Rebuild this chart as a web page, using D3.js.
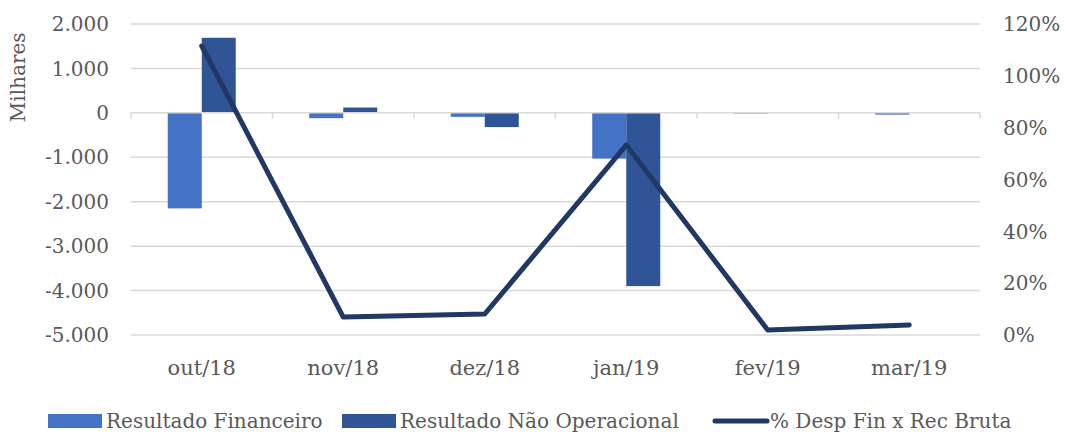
<!DOCTYPE html>
<html>
<head>
<meta charset="utf-8">
<script src="https://cdn.jsdelivr.net/npm/d3@7"></script>
<style>
  body { margin: 0; background: #fff; }
</style>
</head>
<body>
<svg id="chart" width="1065" height="432"></svg>
<script>
const categories = ['out/18', 'nov/18', 'dez/18', 'jan/19', 'fev/19', 'mar/19'];
const resultadoFinanceiro = [-2150, -120, -90, -1030, -15, -40];
const resultadoNaoOperacional = [1690, 120, -320, -3900, 0, 0];
const despFinRecBruta = [1.115, 0.069, 0.081, 0.733, 0.019, 0.039];
const leftTicks = [2000, 1000, 0, -1000, -2000, -3000, -4000, -5000];
const rightTicks = [0, 0.2, 0.4, 0.6, 0.8, 1.0, 1.2];

const FONT = '"DejaVu Serif", "Liberation Serif", serif';
const margin = { top: 24, right: 85, bottom: 97, left: 131 };
const width = 1065 - margin.left - margin.right;
const height = 432 - margin.top - margin.bottom;

const root = d3.select('#chart');
const svg = root
  .append('g')
    .attr('transform', `translate(${margin.left},${margin.top})`);

const x = d3.scaleBand().domain(categories).range([0, width]);
const y = d3.scaleLinear().domain([-5000, 2000]).range([height, 0]);
const y2 = d3.scaleLinear().domain([0, 1.2]).range([height, 0]);

const fmtN = d3.formatLocale({
  decimal: ',', thousands: '.', grouping: [3], currency: ['', ''], minus: '-',
}).format(',d');

// gridlines
svg.append('g')
  .selectAll('line')
  .data(leftTicks.filter(d => d !== 0))
  .enter().append('line')
    .attr('x1', 0)
    .attr('x2', width)
    .attr('y1', d => y(d))
    .attr('y2', d => y(d))
    .attr('stroke', '#d9d9d9')
    .attr('stroke-width', 1.5);

// bars
const barW = 34;
const series = [
  { values: resultadoFinanceiro, color: '#4472c4', off: -barW },
  { values: resultadoNaoOperacional, color: '#2f5597', off: 0 },
];
series.forEach((s) => {
  svg.append('g')
    .selectAll('rect')
    .data(s.values)
    .enter().append('rect')
      .attr('x', (d, i) => x(categories[i]) + x.bandwidth() / 2 + s.off)
      .attr('y', d => y(Math.max(0, d)))
      .attr('width', barW)
      .attr('height', d => Math.abs(y(d) - y(0)))
      .attr('fill', s.color);
});

// zero axis with category ticks
const xAxis = svg.append('g')
  .attr('transform', `translate(0,${y(0)})`);
xAxis.append('line')
  .attr('x1', 0).attr('x2', width)
  .attr('stroke', '#d9d9d9').attr('stroke-width', 1.5);
xAxis.selectAll('.tick')
  .data(d3.range(categories.length + 1))
  .enter().append('line')
    .attr('x1', i => i * x.step())
    .attr('x2', i => i * x.step())
    .attr('y1', 0).attr('y2', 6)
    .attr('stroke', '#d9d9d9').attr('stroke-width', 1.5);

// line series
const line = d3.line()
  .x((d, i) => x(categories[i]) + x.bandwidth() / 2)
  .y(d => y2(d));
svg.append('path')
  .datum(despFinRecBruta)
  .attr('d', line)
  .attr('fill', 'none')
  .attr('stroke', '#203864')
  .attr('stroke-width', 5)
  .attr('stroke-linejoin', 'round')
  .attr('stroke-linecap', 'round');

function label(sel, size) {
  return sel
    .attr('font-family', FONT)
    .attr('font-size', size || 20)
    .attr('fill', '#595959');
}

// left axis labels
svg.append('g')
  .selectAll('text')
  .data(leftTicks)
  .enter().append('text')
    .attr('x', -22)
    .attr('y', d => y(d))
    .attr('dy', '0.36em')
    .attr('text-anchor', 'end')
    .call(label)
    .text(d => fmtN(d));

// right axis labels
svg.append('g')
  .selectAll('text')
  .data(rightTicks)
  .enter().append('text')
    .attr('x', width + 23)
    .attr('y', d => y2(d))
    .attr('dy', '0.36em')
    .attr('text-anchor', 'start')
    .call(label)
    .text(d => `${Math.round(d * 100)}%`);

// category labels
svg.append('g')
  .selectAll('text')
  .data(categories)
  .enter().append('text')
    .attr('x', d => x(d) + x.bandwidth() / 2)
    .attr('y', height + 40)
    .attr('text-anchor', 'middle')
    .call(label, 21)
    .text(d => d);

// y axis title
svg.append('text')
  .attr('transform', `translate(${-106},${y(800)}) rotate(-90)`)
  .attr('text-anchor', 'middle')
  .call(label)
  .text('Milhares');

// legend
const legend = root.append('g')
  .attr('transform', 'translate(0,421)');
const items = [
  { label: 'Resultado Financeiro', color: '#4472c4', x: 48, type: 'rect' },
  { label: 'Resultado Não Operacional', color: '#2f5597', x: 342, type: 'rect' },
  { label: '% Desp Fin x Rec Bruta', color: '#203864', x: 712, type: 'line' },
];
items.forEach((it) => {
  if (it.type === 'rect') {
    legend.append('rect')
      .attr('x', it.x).attr('y', -7)
      .attr('width', 54).attr('height', 14)
      .attr('fill', it.color);
  } else {
    legend.append('line')
      .attr('x1', it.x + 3).attr('x2', it.x + 55)
      .attr('stroke', it.color).attr('stroke-width', 5)
      .attr('stroke-linecap', 'round');
  }
  legend.append('text')
    .attr('x', it.x + 58)
    .attr('y', 7)
    .call(label)
    .text(it.label);
});
</script>
</body>
</html>
